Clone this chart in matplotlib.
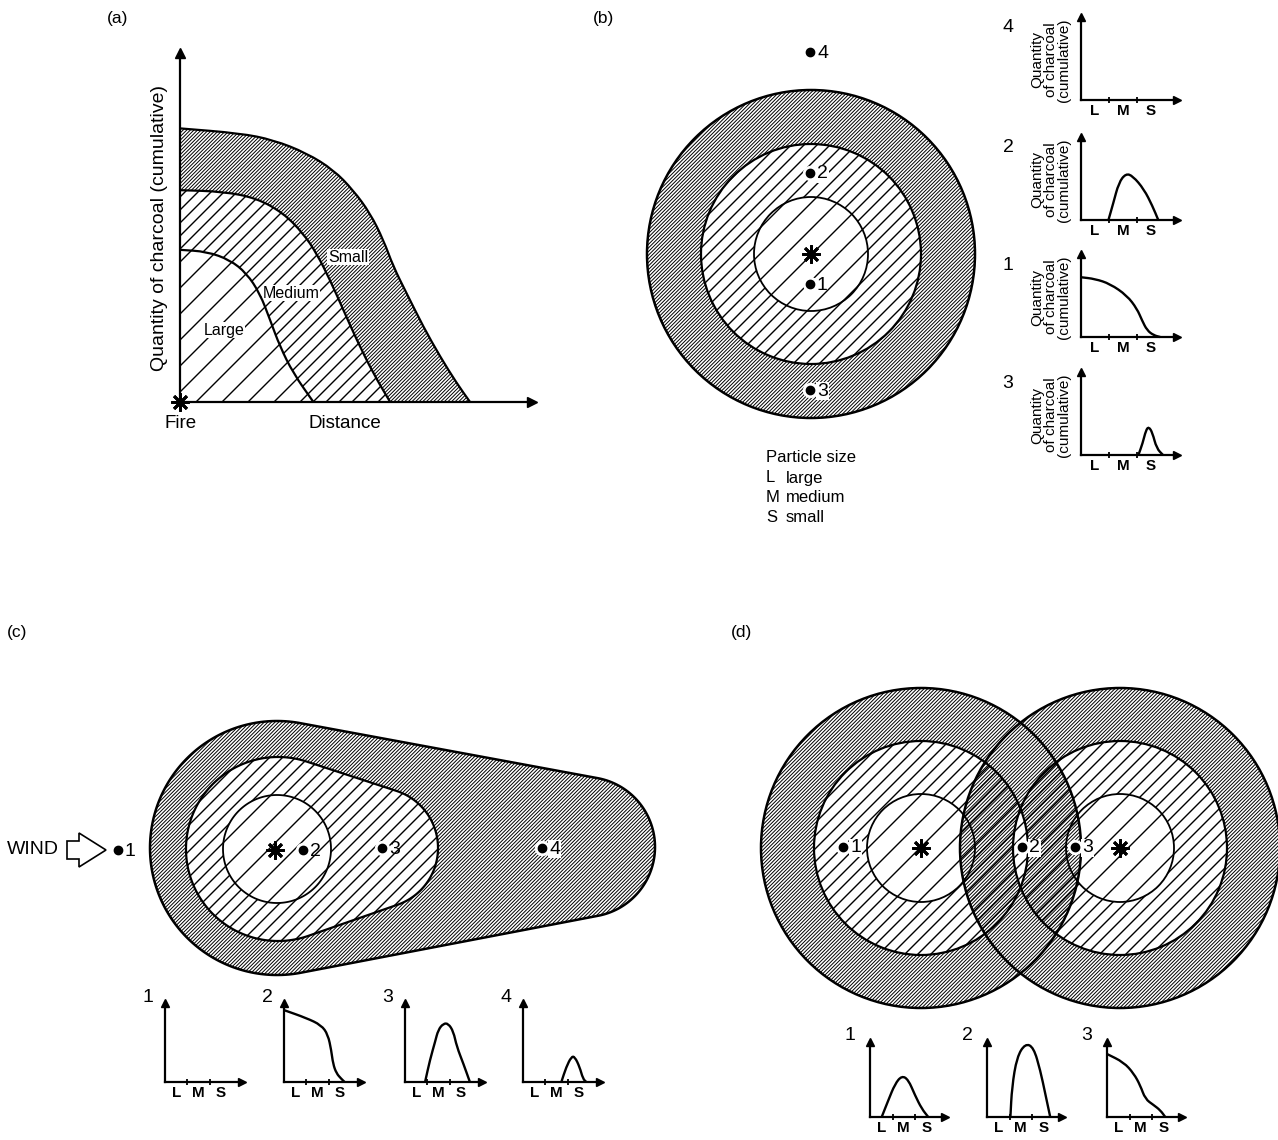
import matplotlib.pyplot as plt
import numpy as np
from matplotlib.path import Path
from matplotlib.patches import PathPatch, Polygon, Circle
from matplotlib.collections import LineCollection

plt.rcParams['font.family'] = ['Liberation Sans', 'DejaVu Sans']

W, H = 1278, 1140

# (a) cumulative quantity of charcoal against distance (axes run 0..100)
small_x = [0, 17.0, 26.5, 36.0, 43.6, 49.2, 54.0, 57.8, 60.6, 64.4, 69.1, 73.9, 78.6, 82.4]
small_y = [78.4, 77.0, 75.1, 71.3, 66.5, 60.7, 54.1, 46.4, 38.8, 31.1, 21.6, 13.0, 5.4, 0]
medium_x = [0, 12.3, 21.8, 29.4, 35.0, 38.8, 42.6, 46.4, 50.2, 54.9, 59.7]
medium_y = [60.7, 60.3, 58.4, 54.1, 48.3, 42.6, 35.0, 26.4, 17.8, 8.2, 0]
large_x = [0, 7.6, 14.2, 18.9, 22.7, 25.6, 28.4, 32.2, 37.9]
large_y = [43.6, 43.1, 40.7, 36.9, 31.1, 23.5, 15.9, 8.2, 0]

# size-class profiles at each site: x in class units (L | 1 | M | 2 | S),
# y as a fraction of the axis height
size_labels = ['L', 'M', 'S']

b_sites = ['4', '2', '1', '3']
b_profiles = {
    '4': ([], []),
    '2': ([0.98, 1.15, 1.35, 1.6, 1.85, 2.25, 2.55, 2.76],
          [0, 0.2, 0.45, 0.56, 0.53, 0.37, 0.17, 0]),
    '1': ([0, 0.5, 1.04, 1.64, 2.0, 2.18, 2.36, 2.6, 2.83],
          [0.72, 0.70, 0.64, 0.5, 0.34, 0.2, 0.08, 0.02, 0]),
    '3': ([2.05, 2.2, 2.32, 2.42, 2.55, 2.7, 2.93],
          [0, 0.14, 0.3, 0.34, 0.27, 0.08, 0]),
}

c_sites = ['1', '2', '3', '4']
c_profiles = {
    '1': ([], []),
    '2': ([0, 1.0, 1.67, 1.97, 2.12, 2.2, 2.35, 2.57, 2.72],
          [0.91, 0.81, 0.72, 0.6, 0.4, 0.23, 0.11, 0.04, 0]),
    '3': ([0.9, 1.12, 1.35, 1.49, 1.72, 1.94, 2.17, 2.32, 2.62, 2.91],
          [0, 0.28, 0.51, 0.66, 0.74, 0.74, 0.64, 0.45, 0.23, 0]),
    '4': ([1.72, 1.94, 2.17, 2.32, 2.54, 2.69, 2.84],
          [0, 0.19, 0.32, 0.32, 0.19, 0.04, 0]),
}

d_sites = ['1', '2', '3']
d_profiles = {
    '1': ([0.52, 0.81, 1.11, 1.41, 1.70, 2.0, 2.3, 2.59],
          [0, 0.22, 0.44, 0.55, 0.5, 0.29, 0.11, 0]),
    '2': ([1.04, 1.11, 1.33, 1.70, 2.07, 2.37, 2.59, 2.81],
          [0, 0.4, 0.8, 0.98, 0.93, 0.62, 0.31, 0]),
    '3': ([0, 0.74, 1.19, 1.48, 1.7, 2.07, 2.37, 2.59],
          [0.84, 0.73, 0.58, 0.42, 0.24, 0.16, 0.09, 0]),
}

fig = plt.figure(figsize=(W / 100, H / 100), dpi=100)
axm = fig.add_axes([0, 0, 1, 1])
axm.set_xlim(0, W)
axm.set_ylim(H, 0)
axm.axis('off')

FINE, COARSE = 3.6, 13.0


def smooth(xs, ys):
    p = np.column_stack([xs, ys]).astype(float)
    verts = [p[0], (p[0] + p[1]) / 2]
    codes = [Path.MOVETO, Path.LINETO]
    for i in range(1, len(p) - 1):
        verts += [p[i], (p[i] + p[i + 1]) / 2]
        codes += [Path.CURVE3, Path.CURVE3]
    verts.append(p[-1])
    codes.append(Path.LINETO)
    return verts, codes


def circle_pts(cx, cy, r, n=400):
    t = np.linspace(0, 2 * np.pi, n, endpoint=False)
    return np.column_stack([cx + r * np.cos(t), cy + r * np.sin(t)])


def hull_pts(c1, r1, c2, r2, n=1440):
    t = np.linspace(0, 2 * np.pi, n, endpoint=False)
    u = np.column_stack([np.cos(t), np.sin(t)])
    c1, c2 = np.array(c1, float), np.array(c2, float)
    h1 = u @ c1 + r1
    h2 = u @ c2 + r2
    return np.where((h1 >= h2)[:, None], c1 + r1 * u, c2 + r2 * u)


def region(*rings):
    # rings: (outer, inner-or-None) pairs; holes run the other way round,
    # so overlapping rings join up under the nonzero rule
    verts, codes = [], []
    for outer, inner in rings:
        loops = [outer] if inner is None else [outer, inner[::-1]]
        for pts in loops:
            verts += list(pts) + [pts[0]]
            codes += [Path.MOVETO] + [Path.LINETO] * (len(pts) - 1) + [Path.CLOSEPOLY]
    return Path(np.array(verts), codes)


def hatch(patch, spacing, lw, every=1):
    bb = patch.get_transform().transform_path(patch.get_path()).get_extents()
    x0, x1 = bb.x0 - 3, bb.x1 + 3
    y0, y1 = H - bb.y1 - 3, H - bb.y0 + 3
    step = spacing * every
    cs = np.arange(np.floor((x0 + y0) / step), np.ceil((x1 + y1) / step) + 1) * step
    segs = [[(x0, c - x0), (x1, c - x1)] for c in cs]
    lc = LineCollection(segs, colors='black', linewidths=lw, zorder=1,
                        capstyle='butt')
    axm.add_collection(lc)
    lc.set_clip_path(patch)


def fill_kind(p, kind):
    if kind == 'fine':
        hatch(p, FINE, 0.7)
    elif kind == 'coarse':
        hatch(p, COARSE, 1.0)
    else:
        hatch(p, COARSE, 1.0, every=2)


def shade(path, kind):
    p = PathPatch(path, fc='none', ec='none')
    axm.add_patch(p)
    fill_kind(p, kind)


def star(x, y):
    axm.plot(x, y, marker=(8, 2, 0), ms=13, mew=2.0, color='black', zorder=6)


def site(x, y, label, box=False):
    axm.plot(x, y, 'o', ms=10, color='white', zorder=5)
    axm.plot(x, y, 'o', ms=6, color='black', zorder=6)
    kw = dict(fontsize=14, ha='left', va='center', zorder=7)
    if box:
        kw['bbox'] = dict(fc='white', ec='none', pad=0.6)
    axm.text(x + 7, y + 1, label, **kw)


def arrow_axes(ax, xmax, ymax, ms):
    for s in ['top', 'right']:
        ax.spines[s].set_visible(False)
    for s in ['left', 'bottom']:
        ax.spines[s].set_linewidth(1.6)
    ax.plot([xmax], [0], '>', color='black', ms=ms, clip_on=False)
    ax.plot([0], [ymax], '^', color='black', ms=ms, clip_on=False)
    ax.patch.set_alpha(0)


def mini(xpx, base, wpx, hpx, unit, xs, ys):
    ax = fig.add_axes([xpx / W, (H - base) / H, wpx / W, hpx / H])
    xmax = wpx / unit
    ax.set_xlim(0, xmax)
    ax.set_ylim(0, 1)
    arrow_axes(ax, xmax, 1, 6)
    ax.set_xticks([0.5, 1.5, 2.5], size_labels)
    ax.set_xticks([1, 2], minor=True)
    ax.tick_params(axis='x', which='major', length=0, pad=3, labelsize=11)
    ax.tick_params(axis='x', which='minor', length=4, width=1.3, direction='inout')
    for t in ax.get_xticklabels():
        t.set_fontweight('bold')
    ax.set_yticks([])
    if len(xs):
        v, c = smooth(xs, ys)
        ax.add_patch(PathPatch(Path(v, c), fill=False, lw=1.7, ec='black',
                               clip_on=False))
    return ax


# ---------------- panel (a) ----------------
ax_a = fig.add_axes([180 / W, (H - 402) / H, 352 / W, 349 / H])
ax_a.set_xlim(0, 100)
ax_a.set_ylim(0, 100)
arrow_axes(ax_a, 100, 100, 7)
ax_a.set_xticks([])
ax_a.set_yticks([])

vs, cs_ = smooth(small_x, small_y)
vm, cm = smooth(medium_x, medium_y)
vl, cl = smooth(large_x, large_y)
vmr, cmr = smooth(medium_x[::-1], medium_y[::-1])
vlr, clr = smooth(large_x[::-1], large_y[::-1])
cmr[0] = Path.LINETO
clr[0] = Path.LINETO

reg_small = Path(vs + vmr + [vs[0]], cs_ + cmr + [Path.CLOSEPOLY])
reg_medium = Path(vm + vlr + [vm[0]], cm + clr + [Path.CLOSEPOLY])
reg_large = Path(vl + [(0, 0), vl[0]], cl + [Path.LINETO, Path.CLOSEPOLY])
for reg, kind in [(reg_small, 'fine'), (reg_medium, 'coarse'), (reg_large, 'sparse')]:
    p = PathPatch(reg, fc='none', ec='none')
    ax_a.add_patch(p)
    fill_kind(p, kind)
for v, c in [(vs, cs_), (vm, cm), (vl, cl)]:
    ax_a.add_patch(PathPatch(Path(v, c), fill=False, lw=1.6, ec='black'))

txt = dict(fontsize=11.5, ha='center', va='center', zorder=7,
           bbox=dict(fc='white', ec='none', pad=0.4))
axm.text(348, 257, 'Small', **txt)
axm.text(291, 293, 'Medium', **txt)
axm.text(224, 330, 'Large', **txt)
star(180, 402)
axm.text(181, 424, 'Fire', fontsize=13.5, ha='center', va='center')
axm.text(345, 424, 'Distance', fontsize=13.5, ha='center', va='center')
axm.text(160, 228, 'Quantity of charcoal (cumulative)', fontsize=14,
         rotation=90, ha='center', va='center')
axm.text(118, 18, '(a)', fontsize=12.5, ha='center', va='center')

# ---------------- panel (b) ----------------
bx, by = 811, 254
shade(region((circle_pts(bx, by, 164), circle_pts(bx, by, 110))), 'fine')
shade(region((circle_pts(bx, by, 110), circle_pts(bx, by, 57))), 'coarse')
shade(region((circle_pts(bx, by, 57), None)), 'sparse')
for r, lw in [(164, 1.8), (110, 1.6), (57, 1.3)]:
    axm.add_patch(Circle((bx, by), r, fill=False, lw=lw, ec='black', zorder=2))
star(bx, by)
site(810, 52, '4')
site(810, 173, '2', box=True)
site(810, 284, '1')
site(810, 390, '3', box=True)
axm.text(603, 18, '(b)', fontsize=12.5, ha='center', va='center')

legend_rows = [('L', 'large'), ('M', 'medium'), ('S', 'small')]
axm.text(766, 458, 'Particle size', fontsize=12, ha='left', va='center')
for i, (k, name) in enumerate(legend_rows):
    axm.text(766, 478 + 20 * i, k, fontsize=12, ha='left', va='center')
    axm.text(786, 478 + 20 * i, name, fontsize=12, ha='left', va='center')

for site_id, base in zip(b_sites, [100, 220, 337, 455]):
    xs, ys = b_profiles[site_id]
    mini(1081, base, 96, 83, 28, xs, ys)
    axm.text(1008, base - 72, site_id, fontsize=14, ha='center', va='center')
    axm.text(1051, base - 40, 'Quantity\nof charcoal\n(cumulative)', fontsize=11,
             rotation=90, ha='center', va='center', linespacing=0.95,
             multialignment='center')

# ---------------- panel (c) ----------------
outer_c = hull_pts((277, 848), 127, (585, 847), 70)
med_c = hull_pts((278, 849), 92, (378, 848), 60)
inn_c = circle_pts(277, 849, 54)
shade(region((outer_c, med_c)), 'fine')
shade(region((med_c, inn_c)), 'coarse')
shade(region((inn_c, None)), 'sparse')
for pts, lw in [(outer_c, 1.8), (med_c, 1.6), (inn_c, 1.3)]:
    axm.add_patch(Polygon(pts, closed=True, fill=False, lw=lw, ec='black', zorder=2))
star(275, 850)
site(118, 850, '1')
site(303, 850, '2')
site(382, 848, '3')
site(542, 848, '4', box=True)
axm.text(7, 850, 'WIND', fontsize=14, ha='left', va='center')
axm.add_patch(Polygon([(67, 841), (79, 841), (79, 833), (106, 850), (79, 867),
                       (79, 859), (67, 859)], closed=True, fill=False, lw=1.2,
                      ec='black'))
axm.text(17, 632, '(c)', fontsize=12.5, ha='center', va='center')

for site_id, xpx in zip(c_sites, [165, 284, 405, 523]):
    xs, ys = c_profiles[site_id]
    mini(xpx, 1082, 77, 79, 22.3, xs, ys)
    axm.text(xpx - 17, 997, site_id, fontsize=14, ha='center', va='center')

# ---------------- panel (d) ----------------
fires_d = [(921, 848), (1120, 848)]
shade(region(*[(circle_pts(cx, cy, 160), circle_pts(cx, cy, 107)) for cx, cy in fires_d]), 'fine')
shade(region(*[(circle_pts(cx, cy, 107), circle_pts(cx, cy, 54)) for cx, cy in fires_d]), 'coarse')
shade(region(*[(circle_pts(cx, cy, 54), None) for cx, cy in fires_d]), 'sparse')
for cx, cy in fires_d:
    for r, lw in [(160, 1.8), (107, 1.6), (54, 1.3)]:
        axm.add_patch(Circle((cx, cy), r, fill=False, lw=lw, ec='black', zorder=2))
    star(cx, cy)
site(843, 847, '1', box=True)
site(1022, 847, '2', box=True)
site(1075, 847, '3', box=True)
axm.text(742, 632, '(d)', fontsize=12.5, ha='center', va='center')

for site_id, xpx in zip(d_sites, [870, 987, 1107]):
    xs, ys = d_profiles[site_id]
    mini(xpx, 1117, 75, 75, 22.5, xs, ys)
    axm.text(xpx - 20, 1035, site_id, fontsize=14, ha='center', va='center')

fig.savefig('out.png', dpi=100)
